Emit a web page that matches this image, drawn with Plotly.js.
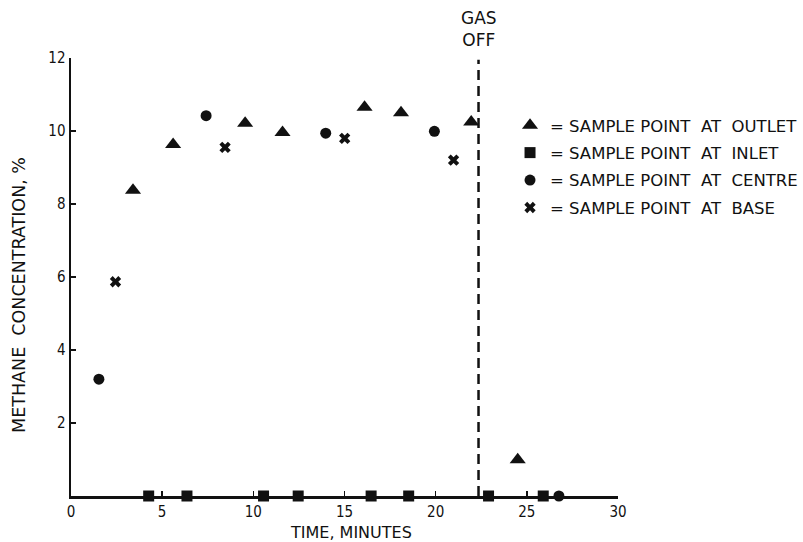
<!DOCTYPE html>
<html>
<head>
<meta charset="utf-8">
<script src="https://cdn.plot.ly/plotly-3.0.1.min.js"></script>
<style>html,body{margin:0;padding:0;background:#fff;}#chart{width:803px;height:542px;}</style>
</head>
<body>
<div id="chart"></div>
<script>
// Data
const outletT = [3.4, 5.6, 9.55, 11.6, 16.1, 18.1, 21.95, 24.5];
const outletV = [8.38, 9.63, 10.21, 9.96, 10.65, 10.5, 10.25, 0.99];
const inletT = [4.26, 6.36, 10.56, 12.46, 16.46, 18.52, 22.9, 25.9];
const inletV = [0, 0, 0, 0, 0, 0, 0, 0];
const centreT = [1.53, 7.41, 13.97, 19.93, 26.76];
const centreV = [3.2, 10.42, 9.94, 9.99, 0];
const baseT = [2.44, 8.45, 15.01, 20.98];
const baseV = [5.87, 9.55, 9.8, 9.2];
const gasOffT = 22.35;
const gasOffLabel = 'GAS<br>OFF';
const seriesNames = [
  '=\u00a0SAMPLE POINT\u00a0\u00a0AT\u00a0\u00a0OUTLET',
  '=\u00a0SAMPLE POINT\u00a0\u00a0AT\u00a0\u00a0INLET',
  '=\u00a0SAMPLE POINT\u00a0\u00a0AT\u00a0\u00a0CENTRE',
  '=\u00a0SAMPLE POINT\u00a0\u00a0AT\u00a0\u00a0BASE'
];
const xTicks = [0, 5, 10, 15, 20, 25, 30];
const yTicks = [2, 4, 6, 8, 10, 12];
const xTitle = 'TIME, MINUTES';
const yTitle = 'METHANE\u00a0\u00a0CONCENTRATION,\u00a0%';

const ink = '#111';
const FONT = 'DejaVu Sans, sans-serif';
const FONTC = 'DejaVu Sans Condensed, DejaVu Sans, sans-serif';

const traces = [
  {x: outletT, y: outletV, name: seriesNames[0], legendgroup: 'g1', mode: 'markers', cliponaxis: false,
   marker: {symbol: 'triangle-up', size: 14, color: ink}},
  {x: inletT, y: inletV, name: seriesNames[1], legendgroup: 'g2', mode: 'markers', cliponaxis: false,
   marker: {symbol: 'square', size: 11, color: ink}},
  {x: centreT, y: centreV, name: seriesNames[2], legendgroup: 'g3', mode: 'markers', cliponaxis: false,
   marker: {symbol: 'circle', size: 11, color: ink}},
  {x: baseT, y: baseV, name: seriesNames[3], legendgroup: 'g4', mode: 'markers', cliponaxis: false,
   marker: {symbol: 'x', size: 10, color: ink}}
];

const layout = {
  width: 803, height: 542,
  margin: {l: 71, r: 185, t: 58, b: 46, autoexpand: false},
  paper_bgcolor: '#fff', plot_bgcolor: '#fff',
  font: {family: FONT, color: ink, size: 15},
  showlegend: true,
  legend: {x: 0.8026, y: 0.886, xanchor: 'left', yanchor: 'top', bgcolor: 'rgba(0,0,0,0)',
           font: {family: FONT, size: 16.5, color: ink}, itemwidth: 30,
           traceorder: 'grouped', tracegroupgap: 3},
  xaxis: {
    range: [0, 30], tickvals: xTicks, ticktext: xTicks.map(String),
    showgrid: false, zeroline: false, showline: true, linecolor: ink, linewidth: 2.5,
    ticks: 'inside', ticklen: 5, tickwidth: 1.5, tickcolor: ink,
    tickfont: {size: 15, family: FONTC, color: ink}
  },
  yaxis: {
    range: [0, 12], tickvals: yTicks, ticktext: yTicks.map(String),
    showgrid: false, zeroline: false, showline: true, linecolor: ink, linewidth: 2.5,
    ticks: 'inside', ticklen: 5, tickwidth: 1.5, tickcolor: ink,
    tickfont: {size: 15, family: FONTC, color: ink}
  },
  shapes: [
    {type: 'line', xref: 'x', yref: 'y', x0: gasOffT, x1: gasOffT, y0: 0, y1: 11.95,
     line: {color: ink, width: 2.5, dash: '10px,6px'}}
  ],
  annotations: [
    {xref: 'x', yref: 'paper', x: gasOffT, y: 1.0, yshift: 6, yanchor: 'bottom', showarrow: false,
     text: gasOffLabel, align: 'center', font: {size: 17, family: FONT, color: ink}},
    {xref: 'paper', yref: 'paper', x: 0.512, y: -0.084, xanchor: 'center', yanchor: 'middle', showarrow: false,
     text: xTitle, font: {size: 16, family: FONT, color: ink}},
    {xref: 'paper', yref: 'paper', x: -0.0951, y: 0.459, xanchor: 'center', yanchor: 'middle', showarrow: false,
     textangle: -90, text: yTitle, font: {size: 17.5, family: FONT, color: ink}}
  ]
};

Plotly.newPlot('chart', traces, layout, {staticPlot: true});
</script>
</body>
</html>
